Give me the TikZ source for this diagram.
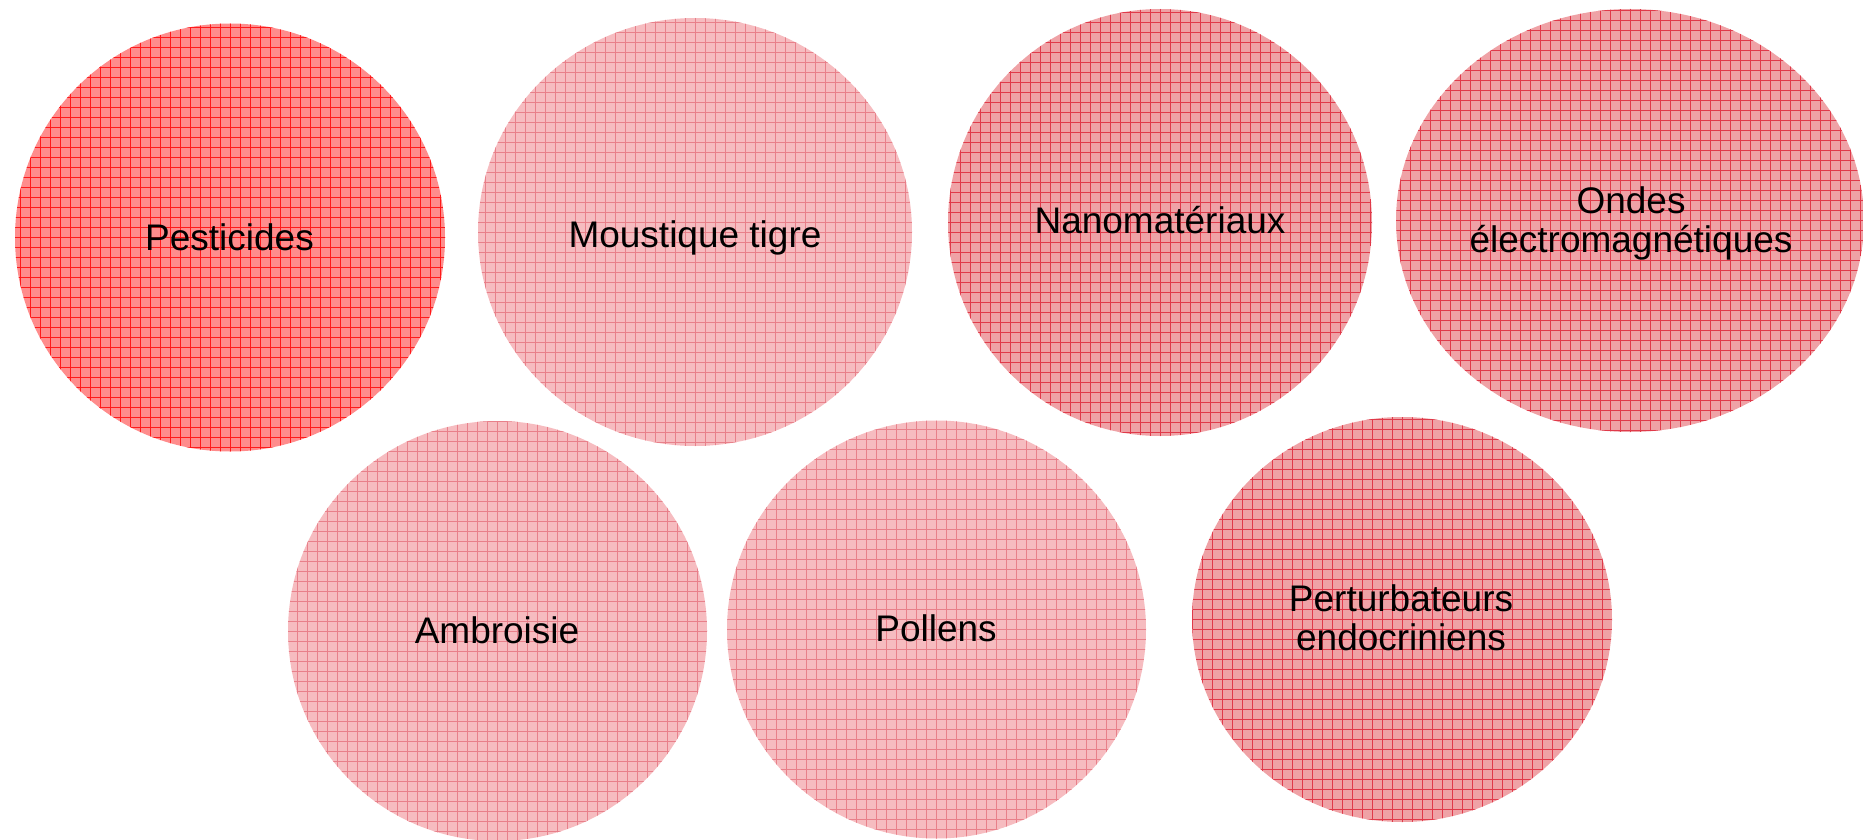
\documentclass[tikz,border=0pt]{standalone}
\usepackage{fontspec}
\setmainfont{Liberation Sans}
\usetikzlibrary{shapes.geometric}
\definecolor{hotfill}{HTML}{FF8C8C}
\definecolor{hotline}{HTML}{FF1A1A}
\definecolor{palefill}{HTML}{F6BCC0}
\definecolor{paleline}{HTML}{E8808A}
\definecolor{midfill}{HTML}{EFA2A6}
\definecolor{midline}{HTML}{E03A4A}
\tikzset{
  blob/.style n args={4}{ellipse, inner sep=0pt, draw=none, fill=#1,
    minimum width=#3, minimum height=#4,
    path picture={\draw[#2, line width=0.7pt]
      ([xshift=-1pt,yshift=-1pt]path picture bounding box.south west) grid[step=10pt]
      ([xshift=1pt,yshift=1pt]path picture bounding box.north east);}},
  lbl/.style={anchor=base, font=\fontsize{37}{39}\selectfont, text=black, inner sep=0pt}
}
\begin{document}
\begin{tikzpicture}[x=1pt,y=-1pt]
\useasboundingbox (0,0) rectangle (1863,840);
% circles
\node[blob={hotfill}{hotline}{430pt}{428pt}]  (pest)  at (230,237.5) {};
\node[blob={palefill}{paleline}{434pt}{428pt}] (moust) at (695,232) {};
\node[blob={midfill}{midline}{424pt}{427pt}]  (nano)  at (1160,222.5) {};
\node[blob={midfill}{midline}{468pt}{423pt}]  (ondes) at (1630,220.5) {};
\node[blob={palefill}{paleline}{419pt}{420pt}] (ambr)  at (497.5,631) {};
\node[blob={palefill}{paleline}{419pt}{418pt}] (poll)  at (936.5,629.5) {};
\node[blob={midfill}{midline}{420pt}{405pt}]  (pert)  at (1402,619.5) {};
% labels
\node[lbl] (tpest)  at (229.5,250) {Pesticides};
\node[lbl] (tmoust) at (695,247) {Moustique tigre};
\node[lbl] (tnano)  at (1160,233) {Nanomatériaux};
\node[lbl] (tondes) at (1631,213) {\begin{tabular}[t]{@{}c@{}}Ondes\\électromagnétiques\end{tabular}};
\node[lbl] (tambr)  at (497,643) {Ambroisie};
\node[lbl] (tpoll)  at (936,641) {Pollens};
\node[lbl] (tpert)  at (1401,611) {\begin{tabular}[t]{@{}c@{}}Perturbateurs\\endocriniens\end{tabular}};
\end{tikzpicture}
\end{document}
